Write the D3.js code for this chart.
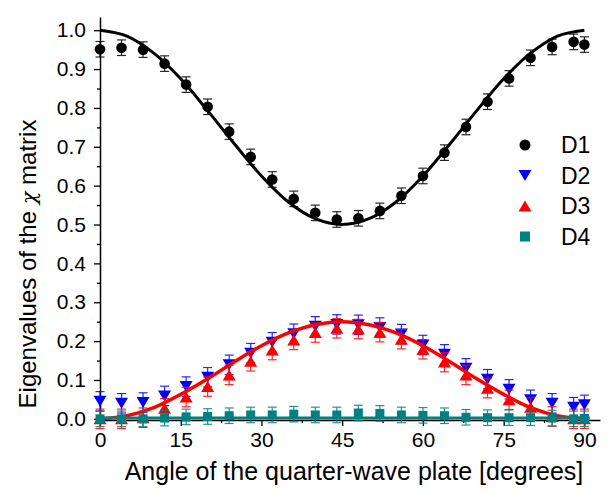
<!DOCTYPE html>
<html>
<head>
<meta charset="utf-8">
<script src="https://cdn.jsdelivr.net/npm/d3@7"></script>
<style>
  body { margin: 0; background: #fff; }
  svg { display: block; font-family: "Liberation Sans", Arial, sans-serif; }
</style>
</head>
<body>
<svg id="chart" width="607" height="493"></svg>
<script>
// measured angles (degrees) and the four eigenvalues
var angles = [0, 4, 8, 12, 16, 20, 24, 28, 32, 36, 40, 44, 48, 52, 56, 60, 64, 68, 72, 76, 80, 84, 88, 90];
var d1 = [0.951, 0.955, 0.950, 0.914, 0.860, 0.803, 0.739, 0.674, 0.616, 0.566, 0.530, 0.513,
          0.516, 0.535, 0.574, 0.625, 0.685, 0.751, 0.816, 0.876, 0.929, 0.957, 0.970, 0.963];
var d2 = [0.045, 0.040, 0.042, 0.059, 0.083, 0.107, 0.139, 0.169, 0.197, 0.219, 0.238, 0.243,
          0.242, 0.235, 0.218, 0.190, 0.166, 0.130, 0.102, 0.076, 0.049, 0.040, 0.030, 0.036];
var d3v = [0.000, 0.000, 0.003, 0.027, 0.056, 0.083, 0.113, 0.148, 0.177, 0.203, 0.222, 0.233,
           0.231, 0.223, 0.205, 0.179, 0.146, 0.113, 0.079, 0.049, 0.030, 0.006, 0.000, 0.000];
var d4 = [0.000, 0.000, 0.000, 0.002, 0.005, 0.006, 0.008, 0.010, 0.010, 0.012, 0.010, 0.010,
          0.015, 0.014, 0.010, 0.009, 0.008, 0.004, 0.003, 0.003, 0.003, 0.002, 0.000, 0.000];
var errD1 = 0.02, errD2 = 0.025, errD3 = 0.025, errD4 = 0.02;

// theory curves, every 5 degrees
var fitAngles = [0, 5, 10, 15, 20, 25, 30, 35, 40, 45, 50, 55, 60, 65, 70, 75, 80, 85, 90];
var fitD1 = [1.0, 0.985, 0.941, 0.875, 0.793, 0.707, 0.625, 0.558, 0.515, 0.5,
             0.515, 0.558, 0.625, 0.707, 0.793, 0.875, 0.941, 0.985, 1.0];
var fitD3 = [0, 0.008, 0.029, 0.063, 0.103, 0.147, 0.188, 0.221, 0.242, 0.25,
             0.242, 0.221, 0.188, 0.147, 0.103, 0.063, 0.029, 0.008, 0];
var fitD4Angles = [0, 91];
var fitD4 = [0.002, 0.002];

var xTicks = [0, 15, 30, 45, 60, 75, 90];
var yTicks = [0, 0.1, 0.2, 0.3, 0.4, 0.5, 0.6, 0.7, 0.8, 0.9, 1.0];
var legendNames = ["D1", "D2", "D3", "D4"];

var svg = d3.select("#chart");

var x = d3.scaleLinear().domain([0, 92.9]).range([100, 600]);
var y = d3.scaleLinear().domain([-0.003, 1.034]).range([420, 17]);

// minor ticks first so majors sit on top
svg.append("g")
    .attr("transform", "translate(0,420)")
    .call(d3.axisBottom(x).tickValues(d3.range(7.5, 90, 15)).tickSize(3).tickFormat(""))
    .call(function(g) { g.select(".domain").remove(); });
svg.append("g")
    .attr("transform", "translate(100,0)")
    .call(d3.axisLeft(y).tickValues(d3.range(0.05, 1.0, 0.1)).tickSize(3).tickFormat(""))
    .call(function(g) { g.select(".domain").remove(); });

var xAxis = svg.append("g")
    .attr("transform", "translate(0,420)")
    .call(d3.axisBottom(x).tickValues(xTicks).tickSize(6).tickSizeOuter(0).tickPadding(6));
var yAxis = svg.append("g")
    .attr("transform", "translate(100,0)")
    .call(d3.axisLeft(y).tickValues(yTicks).tickSize(6).tickSizeOuter(0).tickPadding(8)
      .tickFormat(d3.format(".1f")));

svg.selectAll(".tick line").attr("stroke", "#000").attr("stroke-width", 1.3);
svg.selectAll(".domain").attr("stroke", "#000").attr("stroke-width", 1.5);
svg.selectAll(".tick text").attr("fill", "#000").attr("font-size", 21)
    .attr("font-family", "Liberation Sans, Arial, sans-serif");

// axis titles
svg.append("text")
    .attr("x", 354).attr("y", 480)
    .attr("text-anchor", "middle")
    .attr("font-size", 25)
    .text("Angle of the quarter-wave plate [degrees]");

var yt = svg.append("text")
    .attr("transform", "translate(36,264) rotate(-90)")
    .attr("text-anchor", "middle")
    .attr("font-size", 24);
yt.append("tspan").text("Eigenvalues of the ");
yt.append("tspan").attr("font-family", "DejaVu Serif").attr("font-style", "italic").attr("font-size", 21).text("\u03c7");
yt.append("tspan").text(" matrix");

// marker shapes
function triDown(w, h) { return "M" + (-w / 2) + "," + (-h / 2) + "L" + (w / 2) + "," + (-h / 2) + "L0," + (h / 2) + "Z"; }
function triUp(w, h) { return "M" + (-w / 2) + "," + (h / 2) + "L" + (w / 2) + "," + (h / 2) + "L0," + (-h / 2) + "Z"; }
function square(s) { return "M" + (-s / 2) + "," + (-s / 2) + "h" + s + "v" + s + "h" + (-s) + "Z"; }

var line = d3.line()
    .x(function(d) { return x(d[0]); })
    .y(function(d) { return y(d[1]); })
    .curve(d3.curveCatmullRom);

function drawFit(xs, ys, color, width) {
  svg.append("path")
      .datum(d3.zip(xs, ys))
      .attr("d", line)
      .attr("fill", "none")
      .attr("stroke", color)
      .attr("stroke-width", width);
}

function drawSeries(vals, err, color, shape) {
  var pts = d3.zip(angles, vals);
  var g = svg.append("g");
  var eb = g.selectAll(".eb").data(pts).enter().append("g")
      .attr("stroke", color).attr("stroke-width", 1.2).attr("opacity", 0.85);
  eb.append("line")
      .attr("x1", function(d) { return x(d[0]); }).attr("x2", function(d) { return x(d[0]); })
      .attr("y1", function(d) { return y(d[1] - err); }).attr("y2", function(d) { return y(d[1] + err); });
  eb.append("line")
      .attr("x1", function(d) { return x(d[0]) - 4.5; }).attr("x2", function(d) { return x(d[0]) + 4.5; })
      .attr("y1", function(d) { return y(d[1] + err); }).attr("y2", function(d) { return y(d[1] + err); });
  eb.append("line")
      .attr("x1", function(d) { return x(d[0]) - 4.5; }).attr("x2", function(d) { return x(d[0]) + 4.5; })
      .attr("y1", function(d) { return y(d[1] - err); }).attr("y2", function(d) { return y(d[1] - err); });

  var m = g.selectAll(".m").data(pts).enter().append("g")
      .attr("transform", function(d) { return "translate(" + x(d[0]) + "," + y(d[1]) + ")"; })
      .attr("fill", color);
  if (shape === "circle") m.append("circle").attr("r", 5.3);
  else m.append("path").attr("d", shape);
}

drawFit(fitAngles, fitD1, "#000", 3);
drawSeries(d1, errD1, "#000", "circle");
drawSeries(d2, errD2, "#0000ff", triDown(13, 11));
drawSeries(d3v, errD3, "#ff0000", triUp(13, 11));
drawFit(fitAngles, fitD3, "#ff0000", 3.5);
drawFit(fitD4Angles, fitD4, "#008080", 3);
drawSeries(d4, errD4, "#008080", square(9));

// legend
var legendColors = ["#000", "#0000ff", "#ff0000", "#008080"];
var legendShapes = ["circle", triDown(13, 11), triUp(13, 11), square(10)];
var leg = svg.selectAll(".leg").data(legendNames).enter().append("g")
    .attr("transform", function(d, i) { return "translate(525," + (145 + i * 30.5) + ")"; });
leg.each(function(d, i) {
  var g = d3.select(this);
  if (legendShapes[i] === "circle") g.append("circle").attr("r", 5.5).attr("fill", legendColors[i]);
  else g.append("path").attr("d", legendShapes[i]).attr("fill", legendColors[i]);
  g.append("text").attr("x", 36).attr("y", 8).attr("font-size", 23).text(d);
});
</script>
</body>
</html>
